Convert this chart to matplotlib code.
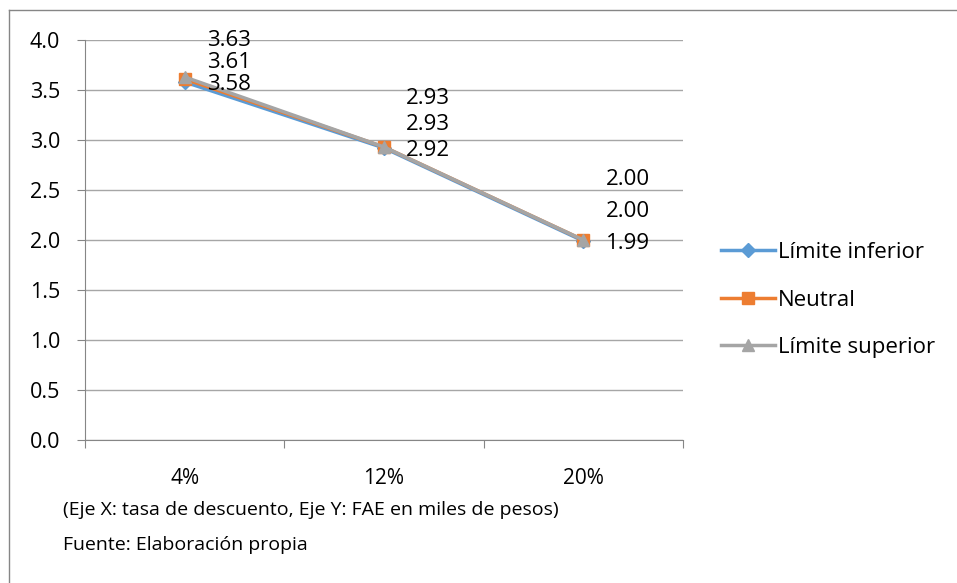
import matplotlib.pyplot as plt
from matplotlib.lines import Line2D

categories = ["4%", "12%", "20%"]
series_names = ["Límite inferior", "Neutral", "Límite superior"]
limite_inferior = [3.58, 2.92, 1.99]
neutral = [3.61, 2.93, 2.00]
limite_superior = [3.63, 2.93, 2.00]
label_gap = [22, 26, 32]  # vertical spacing of stacked data labels, px

colors = ["#5B9BD5", "#ED7D31", "#A5A5A5"]
markers = ["D", "s", "^"]
msizes = [7, 9, 9]

plt.rcParams["font.family"] = ["Open Sans", "DejaVu Sans"]

W, H = 957, 583
fig = plt.figure(figsize=(W / 100, H / 100), dpi=100)
ax = fig.add_axes([85 / W, 1 - 440 / H, (683 - 85) / W, 400 / H])

x = list(range(len(categories)))
all_series = [limite_inferior, neutral, limite_superior]
for vals, name, c, m, ms in zip(all_series, series_names, colors, markers, msizes):
    ax.plot(x, vals, color=c, lw=2.5, marker=m, ms=ms, label=name, zorder=3)

# data labels, stacked above the lowest point
for i in x:
    for k, vals in enumerate(all_series):
        ax.annotate(f"{vals[i]:.2f}", (i, limite_inferior[i]),
                    xytext=(16, k * label_gap[i] * 0.72 - 1.5), textcoords="offset points",
                    ha="left", va="center", fontsize=16, color="black", zorder=4)

ax.set_xlim(-0.5, 2.5)
ax.set_ylim(0, 4.0)
ax.set_yticks([i * 0.5 for i in range(9)])
ax.set_yticklabels([f"{i * 0.5:.1f}" for i in range(9)])
ax.yaxis.grid(True, color="#A6A6A6", lw=1)
ax.set_axisbelow(True)
ax.set_xticks([-0.5, 0.5, 1.5, 2.5])
ax.set_xticklabels([])
ax.set_xticks(x, minor=True)
ax.set_xticklabels(categories, minor=True)
ax.tick_params(axis="x", which="major", length=6, color="#868686", direction="out")
ax.tick_params(axis="x", which="minor", length=0, pad=20, labelsize=15)
ax.tick_params(axis="y", length=6, color="#868686", labelsize=15.5, pad=12)
for side in ["top", "right"]:
    ax.spines[side].set_visible(False)
for side in ["left", "bottom"]:
    ax.spines[side].set_color("#868686")

handles = [Line2D([], [], color=c, lw=2.5, marker=m, ms=ms)
           for c, m, ms in zip(colors, markers, msizes)]
fig.legend(handles, series_names, loc="center left", bbox_to_anchor=(701 / W, 1 - 300 / H),
           frameon=False, fontsize=16, handlelength=2.45, handletextpad=0.1,
           labelspacing=1.2)

fig.text(63 / W, 1 - 510 / H, "(Eje X: tasa de descuento, Eje Y: FAE en miles de pesos)",
         fontsize=14, va="center")
fig.text(63 / W, 1 - 545 / H, "Fuente: Elaboración propia", fontsize=14, va="center")

fig.add_artist(Line2D([9 / W, 9 / W], [0, 1 - 10 / H], color="#868686", lw=1))
fig.add_artist(Line2D([9 / W, 1], [1 - 10 / H, 1 - 10 / H], color="#868686", lw=1))

fig.savefig("out.png", dpi=100)
